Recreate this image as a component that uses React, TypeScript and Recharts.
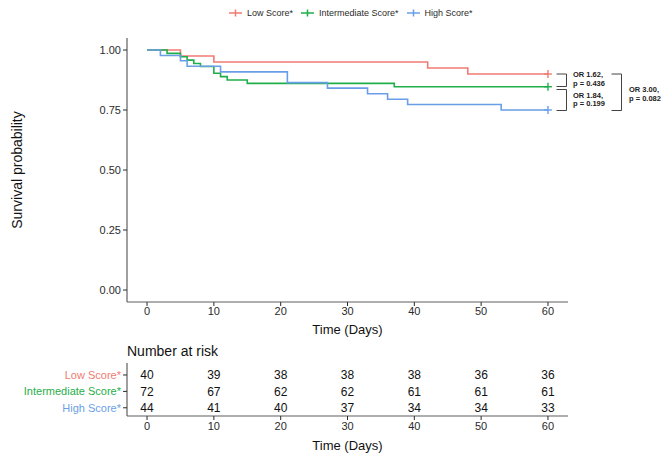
import React from 'react';
import { ComposedChart, ScatterChart, Line, Scatter, XAxis, YAxis } from 'recharts';

// categories
const groups = ['Low Score*', 'Intermediate Score*', 'High Score*'];
const colors = ['#ef7b72', '#1fae4a', '#6a9fe8'];
const tableRows = [3, 2, 1];

// tick labels
const timeTicks = [0, 10, 20, 30, 40, 50, 60];
const survTicks = [0, 0.25, 0.5, 0.75, 1];

// Kaplan-Meier steps (time, survival)
const lowTimes = [0, 5, 10, 42, 48, 60];
const lowSurv = [1, 0.975, 0.95, 0.925, 0.9, 0.9];
const intTimes = [0, 3, 5, 6, 7, 8, 10, 11, 12, 15, 37, 60];
const intSurv = [1, 0.986, 0.972, 0.958, 0.944, 0.931, 0.903, 0.889, 0.875, 0.861, 0.847, 0.847];
const highTimes = [0, 2, 5, 6, 11, 21, 27, 33, 36, 39, 53, 60];
const highSurv = [1, 0.977, 0.955, 0.932, 0.909, 0.864, 0.841, 0.818, 0.795, 0.773, 0.75, 0.75];

// number at risk
const lowRisk = [40, 39, 38, 38, 38, 36, 36];
const intRisk = [72, 67, 62, 62, 61, 61, 61];
const highRisk = [44, 41, 40, 37, 34, 34, 33];

// pairwise comparisons
const compLabels = [
  ['OR 1.62,', 'p = 0.436'],
  ['OR 1.84,', 'p = 0.199'],
  ['OR 3.00,', 'p = 0.082'],
];

const FONT = '"Liberation Sans", Arial, sans-serif';
const AXIS = '#5f5f5f';
const TEXT = '#2b2b2b';

const toSteps = (times: number[], surv: number[]) => times.map((t, i) => ({ t, s: surv[i] }));
const curves = [toSteps(lowTimes, lowSurv), toSteps(intTimes, intSurv), toSteps(highTimes, highSurv)];
const risks = [lowRisk, intRisk, highRisk];
const riskData = risks.map((r, g) => r.map((n, i) => ({ t: timeTicks[i], row: tableRows[g], n })));

const plusMark = (color: string) => (props: any) => {
  const { cx, cy, index, points } = props;
  if (points && index !== points.length - 1) return <g key={`d${index}`} />;
  return (
    <g key={`d${index}`} stroke={color} strokeWidth={1.4}>
      <line x1={cx - 4} x2={cx + 4} y1={cy} y2={cy} />
      <line x1={cx} x2={cx} y1={cy - 4} y2={cy + 4} />
    </g>
  );
};

function Legend() {
  return (
    <div style={{ position: 'absolute', left: 229, top: 8, display: 'flex', alignItems: 'center', fontSize: 9, color: TEXT }}>
      {groups.map((g, i) => (
        <div key={g} style={{ display: 'flex', alignItems: 'center', marginRight: 8 }}>
          <svg width={13} height={10} style={{ marginRight: 5 }}>
            <line x1={0} x2={13} y1={5} y2={5} stroke={colors[i]} strokeWidth={1.5} />
            <line x1={6.5} x2={6.5} y1={1.5} y2={8.5} stroke={colors[i]} strokeWidth={1.5} />
          </svg>
          <span>{g}</span>
        </div>
      ))}
    </div>
  );
}

function Brackets() {
  const line = { stroke: '#444', strokeWidth: 1, fill: 'none' };
  const txt = { fontSize: 7.5, fontWeight: 700, fill: '#222', fontFamily: FONT };
  return (
    <svg width={664} height={140} style={{ position: 'absolute', left: 0, top: 0, pointerEvents: 'none' }}>
      <polyline points="556.5,74 566.5,74 566.5,86.5 556.5,86.5" {...line} />
      <polyline points="556.5,89.5 566.5,89.5 566.5,110.5 556.5,110.5" {...line} />
      <polyline points="611.5,74 621.5,74 621.5,110.5 611.5,110.5" {...line} />
      <text x={573} y={77} {...txt}>{compLabels[0][0]}</text>
      <text x={573} y={86} {...txt}>{compLabels[0][1]}</text>
      <text x={573} y={98} {...txt}>{compLabels[1][0]}</text>
      <text x={573} y={106} {...txt}>{compLabels[1][1]}</text>
      <text x={629} y={92} {...txt}>{compLabels[2][0]}</text>
      <text x={629} y={100.5} {...txt}>{compLabels[2][1]}</text>
    </svg>
  );
}

const yLabel = (props: any) => {
  const vb = props.viewBox || { x: 5, y: 38, height: 264 };
  const x = 17;
  const y = vb.y + vb.height / 2;
  return (
    <text x={x} y={y} transform={`rotate(-90, ${x}, ${y})`} textAnchor="middle" dominantBaseline="central" fontSize={14} fill="#111" fontFamily={FONT}>
      Survival probability
    </text>
  );
};

const tableTick = (props: any) => {
  const { x, y, payload } = props;
  const g = tableRows.indexOf(payload.value);
  return (
    <text x={x} y={y} dy="0.35em" textAnchor="end" fontSize={11} fill={colors[g]} fontFamily={FONT}>
      {groups[g]}
    </text>
  );
};

const riskText = (props: any) => (
  <text x={props.cx} y={props.cy} dy="0.36em" textAnchor="middle" fontSize={12} fill="#111" fontFamily={FONT}>
    {props.payload.n}
  </text>
);

export default function App() {
  const tick = { fontSize: 11, fill: TEXT, fontFamily: FONT };
  return (
    <div style={{ position: 'absolute', left: 0, top: 0, width: 664, height: 459, background: '#fff', fontFamily: FONT }}>
      <Legend />
      <ComposedChart width={664} height={340} margin={{ top: 38, right: 96, bottom: 6, left: 5 }}>
        <XAxis
          type="number"
          dataKey="t"
          domain={[-3, 63]}
          ticks={timeTicks}
          interval={0}
          allowDataOverflow
          height={32}
          tick={tick}
          tickSize={4}
          tickMargin={1}
          stroke={AXIS}
          axisLine={{ stroke: AXIS, strokeWidth: 1.2 }}
          tickLine={{ stroke: TEXT }}
          label={{ value: 'Time (Days)', position: 'insideBottom', offset: 0, fontSize: 13, fill: '#111', fontFamily: FONT }}
        />
        <YAxis
          type="number"
          dataKey="s"
          domain={[-0.05, 1.05]}
          ticks={survTicks}
          interval={0}
          allowDataOverflow
          width={122}
          tick={tick}
          tickSize={4}
          tickMargin={2}
          tickFormatter={(v: number) => v.toFixed(2)}
          axisLine={{ stroke: AXIS, strokeWidth: 1.2 }}
          tickLine={{ stroke: TEXT }}
          label={yLabel}
        />
        {curves.map((d, i) => (
          <Line
            key={groups[i]}
            data={d}
            dataKey="s"
            type="stepAfter"
            stroke={colors[i]}
            strokeWidth={1.6}
            dot={plusMark(colors[i])}
            activeDot={false}
            isAnimationActive={false}
          />
        ))}
      </ComposedChart>
      <Brackets />
      <div style={{ position: 'absolute', left: 127, top: 343, fontSize: 14, color: '#111' }}>Number at risk</div>
      <ScatterChart width={664} height={119} margin={{ top: 23, right: 96, bottom: 9, left: 5 }}>
        <XAxis
          type="number"
          dataKey="t"
          domain={[-3, 63]}
          ticks={timeTicks}
          interval={0}
          height={34}
          tick={tick}
          tickSize={4}
          tickMargin={2}
          axisLine={{ stroke: AXIS, strokeWidth: 1.2 }}
          tickLine={{ stroke: TEXT }}
          label={{ value: 'Time (Days)', position: 'insideBottom', offset: 0, fontSize: 13, fill: '#111', fontFamily: FONT }}
        />
        <YAxis
          type="number"
          dataKey="row"
          domain={[0.5, 3.73]}
          ticks={tableRows}
          interval={0}
          width={122}
          tick={tableTick}
          tickSize={4}
          tickMargin={2}
          axisLine={{ stroke: AXIS, strokeWidth: 1.2 }}
          tickLine={{ stroke: TEXT }}
        />
        {riskData.map((d, i) => (
          <Scatter key={groups[i]} data={d} shape={riskText} isAnimationActive={false} />
        ))}
      </ScatterChart>
    </div>
  );
}
